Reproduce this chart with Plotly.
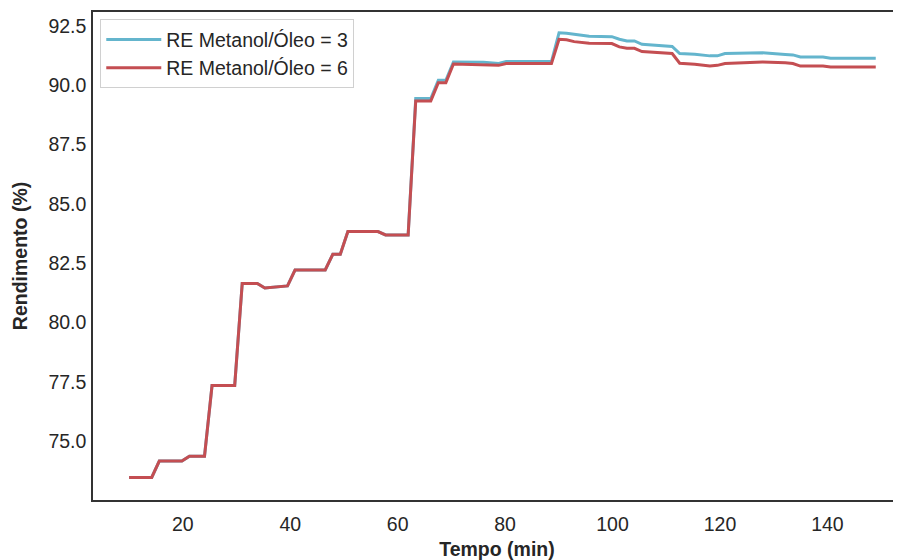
import plotly.graph_objects as go

# Tempo (min) at the corners of the curves
tempo = [10.00, 14.21, 15.62, 19.83, 21.23, 24.04, 25.44, 29.66, 31.06, 33.87,
         35.27, 36.68, 38.08, 39.49, 40.89, 46.51, 47.92, 49.32, 50.73, 56.33,
         57.74, 61.95, 63.36, 66.16, 67.57, 68.97, 70.38, 75.99, 78.80, 80.20,
         88.63, 90.04, 91.44, 92.85, 94.25, 95.65, 99.87, 101.27, 102.67, 104.08,
         105.48, 108.29, 111.10, 112.50, 115.31, 118.12, 119.52, 120.93, 125.14, 127.95,
         132.16, 133.57, 134.97, 139.18, 140.59, 149.00]

# RE Metanol/Óleo = 3
rend_3 = [73.46, 73.46, 74.15, 74.15, 74.36, 74.36, 77.34, 77.34, 81.64, 81.64,
          81.45, 81.48, 81.53, 81.54, 82.21, 82.21, 82.87, 82.87, 83.83, 83.83,
          83.69, 83.69, 89.44, 89.44, 90.21, 90.21, 90.98, 90.97, 90.92, 91.00,
          91.00, 92.21, 92.19, 92.14, 92.10, 92.07, 92.05, 91.94, 91.87, 91.87,
          91.73, 91.67, 91.64, 91.34, 91.31, 91.24, 91.24, 91.34, 91.35, 91.37,
          91.30, 91.28, 91.19, 91.19, 91.14, 91.14]

# RE Metanol/Óleo = 6
rend_6 = [73.46, 73.46, 74.15, 74.15, 74.36, 74.36, 77.34, 77.34, 81.64, 81.64,
          81.45, 81.48, 81.53, 81.54, 82.21, 82.21, 82.87, 82.87, 83.83, 83.83,
          83.69, 83.69, 89.34, 89.34, 90.11, 90.11, 90.90, 90.88, 90.84, 90.92,
          90.92, 91.94, 91.92, 91.84, 91.81, 91.77, 91.76, 91.62, 91.56, 91.56,
          91.42, 91.38, 91.34, 90.93, 90.89, 90.81, 90.84, 90.92, 90.95, 90.98,
          90.95, 90.92, 90.81, 90.81, 90.77, 90.77]

x_ticks = [20, 40, 60, 80, 100, 120, 140]
y_ticks = [75.0, 77.5, 80.0, 82.5, 85.0, 87.5, 90.0, 92.5]

FONT = "Liberation Sans, Arial, sans-serif"
FS = 19.5

fig = go.Figure()
fig.add_trace(go.Scatter(x=tempo, y=rend_3, mode="lines", name="RE Metanol/Óleo = 3",
                         line=dict(color="#64B5CD", width=3)))
fig.add_trace(go.Scatter(x=tempo, y=rend_6, mode="lines", name="RE Metanol/Óleo = 6",
                         line=dict(color="#C44E52", width=3)))

fig.update_layout(
    width=893, height=552,
    margin=dict(l=85, r=0, t=4, b=60),
    paper_bgcolor="white", plot_bgcolor="white",
    font=dict(family=FONT, size=FS, color="#262626"),
    showlegend=True,
    legend=dict(x=0.009, y=0.985, xanchor="left", yanchor="top",
                bgcolor="white", bordercolor="#d0d0d0", borderwidth=1,
                itemwidth=55,
                font=dict(size=FS, color="#262626"), tracegroupgap=0),
    xaxis=dict(range=[3.28, 153.7], tickvals=x_ticks, showgrid=False, zeroline=False,
               showline=True, linecolor="#333333", linewidth=1.5, mirror=True,
               ticks="", ticklabelstandoff=6, automargin=False,
               title=dict(text="<b>Tempo (min)</b>", font=dict(size=FS), standoff=9)),
    yaxis=dict(range=[72.51, 93.09], tickvals=y_ticks, tickformat=".1f", showgrid=False,
               zeroline=False, showline=True, linecolor="#333333", linewidth=1.5,
               ticks="", ticklabelstandoff=1, automargin=False,
               title=dict(text="<b>Rendimento (%)</b>", font=dict(size=FS), standoff=16)),
)

fig.write_html("out.html")
